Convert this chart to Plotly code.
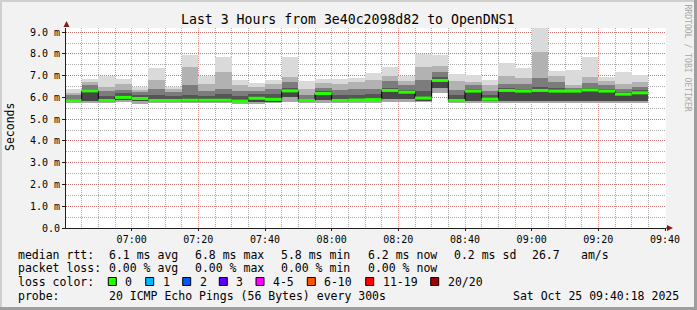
import plotly.graph_objects as go

DAY = "2025-10-25 "
bin_start = ["06:40", "06:45", "06:50", "06:55", "07:00", "07:05", "07:10", "07:15",
             "07:20", "07:25", "07:30", "07:35", "07:40", "07:45", "07:50", "07:55",
             "08:00", "08:05", "08:10", "08:15", "08:20", "08:25", "08:30", "08:35",
             "08:40", "08:45", "08:50", "08:55", "09:00", "09:05", "09:10", "09:15",
             "09:20", "09:25", "09:30"]
last_end = "09:35"

# round-trip time smoke, in ms (min, low, median, upper1, upper2, upper3, max)
rtt_min = [5.78, 5.77, 5.76, 5.80, 5.72, 5.78, 5.78, 5.77, 5.77, 5.77, 5.74, 5.72, 5.75, 5.78, 5.78, 5.77, 5.77, 5.78,
           5.78, 5.78, 5.78, 5.80, 6.22, 5.76, 5.77, 5.77, 5.77, 5.77, 5.75, 5.77, 5.77, 5.76, 5.77, 5.77, 5.77]
rtt_lo = [5.82, 5.85, 5.82, 5.90, 5.82, 5.82, 5.82, 5.82, 5.82, 5.82, 5.80, 5.77, 5.82, 6.00, 5.82, 5.86, 5.82, 5.84,
          5.84, 5.92, 5.95, 5.88, 6.45, 5.80, 5.85, 5.82, 5.85, 5.85, 5.85, 5.85, 5.82, 5.85, 5.85, 5.82, 5.85]
rtt_med = [5.85, 6.30, 5.86, 6.00, 5.95, 5.86, 5.86, 5.87, 5.87, 5.87, 5.83, 5.96, 5.91, 6.30, 5.86, 6.18, 5.86, 5.88,
           5.90, 6.32, 6.24, 5.97, 6.78, 5.86, 6.29, 5.92, 6.32, 6.29, 6.32, 6.29, 6.29, 6.34, 6.29, 6.15, 6.21]
rtt_h1 = [5.95, 6.40, 6.05, 6.20, 6.10, 6.10, 6.05, 6.10, 6.05, 6.15, 6.05, 6.15, 6.15, 6.45, 5.95, 6.30, 6.10, 6.10,
          6.15, 6.45, 6.35, 6.30, 6.95, 6.10, 6.40, 6.10, 6.45, 6.40, 6.50, 6.45, 6.35, 6.45, 6.40, 6.25, 6.35]
rtt_h2 = [6.10, 6.55, 6.30, 6.35, 6.25, 6.40, 6.25, 6.55, 6.30, 6.40, 6.30, 6.30, 6.37, 6.70, 6.10, 6.45, 6.35, 6.40,
          6.40, 6.75, 6.55, 6.80, 7.15, 6.35, 6.55, 6.30, 6.60, 6.60, 6.90, 6.70, 6.45, 6.65, 6.55, 6.40, 6.50]
rtt_h3 = [6.20, 6.70, 6.50, 6.60, 6.35, 6.82, 6.40, 7.42, 6.60, 7.15, 6.55, 6.50, 6.60, 6.95, 6.40, 6.65, 6.60, 6.70,
          6.80, 7.00, 6.75, 7.40, 7.45, 6.75, 6.70, 6.55, 7.00, 6.90, 8.10, 7.00, 6.55, 6.95, 6.75, 6.60, 6.70]
rtt_max = [6.38, 6.83, 7.00, 6.86, 6.46, 7.33, 6.50, 7.95, 7.00, 7.88, 6.78, 6.66, 6.82, 7.85, 6.74, 6.85, 6.85, 6.91,
           7.10, 7.42, 6.98, 8.00, 7.93, 7.08, 7.05, 6.82, 7.57, 7.34, 9.18, 7.23, 7.27, 7.85, 6.92, 7.15, 7.02]

y_tick_vals = [0, 1, 2, 3, 4, 5, 6, 7, 8, 9]
y_tick_text = ["0.0", "1.0 m", "2.0 m", "3.0 m", "4.0 m", "5.0 m", "6.0 m", "7.0 m", "8.0 m", "9.0 m"]

title_text = "Last 3 Hours from 3e40c2098d82 to OpenDNS1"
row_rtt = ["median rtt:", "6.1 ms avg", "6.8 ms max", "5.8 ms min", "6.2 ms now", "0.2 ms sd", "26.7", "am/s"]
row_loss = ["packet loss:", "0.00 % avg", "0.00 % max", "0.00 % min", "0.00 % now"]
loss_labels = ["0", "1", "2", "3", "4-5", "6-10", "11-19", "20/20"]
loss_colors = ["#26ff00", "#00b8ff", "#0059ff", "#5e00ff", "#ff00ff", "#ff5500", "#ff0000", "#a10000"]
probe_text = "20 ICMP Echo Pings (56 Bytes) every 300s"
date_text = "Sat Oct 25 09:40:18 2025"

# ---- geometry helpers (pixel -> paper) ----
W, H = 697, 310
L, R, T, B = 66, 666, 28, 228
def px(x): return (x - L) / (R - L)
def py(y): return (B - y) / (B - T)

starts = [DAY + s for s in bin_start]
ends = starts[1:] + [DAY + last_end]
import pandas as pd
st = pd.to_datetime(starts)
en = pd.to_datetime(ends)
centers = st + (en - st) / 2
width_ms = [(e - s).total_seconds() * 1000 for s, e in zip(st, en)]

fig = go.Figure()
levels = [rtt_min, rtt_lo, rtt_med, rtt_h1, rtt_h2, rtt_h3, rtt_max]
shades = ["#a6a6a6", "#474747", "#555555", "#7c7c7c", "#b2b2b2", "#dadada"]
for k in range(6):
    lo = levels[k]; hi = levels[k + 1]
    fig.add_trace(go.Bar(x=centers, base=lo, y=[h - l for h, l in zip(hi, lo)], width=width_ms,
                         marker=dict(color=shades[k], line=dict(width=0)), hoverinfo="skip"))

# black median step line
fig.add_trace(go.Scatter(x=list(st) + [en[-1]], y=rtt_med + [rtt_med[-1]], mode="lines",
                         line=dict(color="#000000", width=1, shape="hv"), hoverinfo="skip"))
# loss-coloured median segments
gx, gy = [], []
for s, e, m in zip(st, en, rtt_med):
    gx += [s, e, None]; gy += [m, m, None]
fig.add_trace(go.Scatter(x=gx, y=gy, mode="lines", line=dict(color=loss_colors[0], width=3),
                         hoverinfo="skip", connectgaps=False))

mono = "DejaVu Sans Mono"
grid_minor = "rgba(143,143,143,0.75)"
grid_major = "rgba(222,79,79,0.6)"

fig.update_layout(
    width=W, height=H, margin=dict(l=L, r=W - R, t=T, b=H - B),
    paper_bgcolor="#f2f2f2", plot_bgcolor="#ffffff",
    barmode="overlay", bargap=0, showlegend=False, hovermode=False,
    font=dict(family=mono, size=10, color="#000000"),
    xaxis=dict(type="date", range=[DAY + "06:40:18", DAY + "09:40:18"],
               tick0=DAY + "07:00", dtick=1200000, tickformat="%H:%M",
               showgrid=True, gridcolor=grid_major, griddash="1px,1px", gridwidth=1,
               minor=dict(dtick=300000, tick0=DAY + "07:00", showgrid=True, gridcolor=grid_minor,
                          griddash="1px,1px", gridwidth=1),
               showline=True, linecolor="#1f1f1f", linewidth=1, ticks="outside", ticklen=2,
               tickcolor="#1f1f1f", tickfont=dict(family=mono, size=10), zeroline=False, fixedrange=True),
    yaxis=dict(range=[0, 9.19], tickmode="array", tickvals=y_tick_vals, ticktext=y_tick_text,
               showgrid=True, gridcolor=grid_major, griddash="1px,1px", gridwidth=1,
               minor=dict(dtick=0.5, tick0=0, showgrid=True, gridcolor=grid_minor,
                          griddash="1px,1px", gridwidth=1),
               showline=True, linecolor="#1f1f1f", linewidth=1, ticks="outside", ticklen=3,
               tickcolor="#1f1f1f", tickfont=dict(family=mono, size=10), zeroline=False, fixedrange=True),
)

def nb(s): return s.replace(" ", "\u00a0")

ann = []
ann.append(dict(x=px(347.5), y=py(19.5), text=nb(title_text), xanchor="center", yanchor="middle",
                font=dict(family=mono, size=13.2)))
ann.append(dict(x=px(10), y=py(127), text="Seconds", textangle=-90, xanchor="center", yanchor="middle",
                font=dict(family=mono, size=11.5)))
ann.append(dict(x=px(687.5), y=py(58), text=nb("RRDTOOL / TOBI OETIKER"), textangle=90, xanchor="center",
                yanchor="middle", font=dict(family=mono, size=8.1, color="#a8a8a8")))

fs = 11.5
rtt_x = [16, 107.3, 193.3, 279.3, 365.7, 451.7, 530, 579.3]
for x, t in zip(rtt_x, row_rtt):
    ann.append(dict(x=px(x), y=py(254.5), text=nb(t), xanchor="left", yanchor="middle", font=dict(size=fs)))
loss_x = [16, 107.3, 193.3, 279.3, 365.7]
for x, t in zip(loss_x, row_loss):
    ann.append(dict(x=px(x), y=py(268), text=nb(t), xanchor="left", yanchor="middle", font=dict(size=fs)))
ann.append(dict(x=px(16), y=py(282), text=nb("loss color:"), xanchor="left", yanchor="middle", font=dict(size=fs)))
box_x = [108.3, 145.7, 182.7, 219.3, 256, 307.3, 365.7, 430.7]
shapes = []
for bx, lab, col in zip(box_x, loss_labels, loss_colors):
    shapes.append(dict(type="rect", xref="paper", yref="paper", x0=px(bx), x1=px(bx + 8),
                       y0=py(285.5), y1=py(277.5), fillcolor=col, line=dict(color="#000000", width=1)))
    ann.append(dict(x=px(bx + 15), y=py(282), text=nb(lab), xanchor="left", yanchor="middle", font=dict(size=fs)))
ann.append(dict(x=px(16), y=py(296), text=nb("probe:"), xanchor="left", yanchor="middle", font=dict(size=fs)))
ann.append(dict(x=px(107.3), y=py(296), text=nb(probe_text), xanchor="left", yanchor="middle", font=dict(size=fs)))
ann.append(dict(x=px(680.5), y=py(296), text=nb(date_text), xanchor="right", yanchor="middle", font=dict(size=fs)))

for a in ann:
    a.update(xref="paper", yref="paper", showarrow=False)
    a.setdefault("font", {})
    a["font"].setdefault("family", mono)
    a["font"].setdefault("color", "#000000")

# frame shading
for (x0, x1, y0, y1, c) in [(0, 697, 0, 2, "#cfcfcf"), (0, 2, 0, 310, "#cfcfcf"),
                            (0, 697, 307, 310, "#9e9e9e"), (694, 697, 0, 310, "#9e9e9e")]:
    shapes.append(dict(type="rect", xref="paper", yref="paper", x0=px(x0), x1=px(x1), y0=py(y1), y1=py(y0),
                       fillcolor=c, line=dict(width=0), layer="above"))
# axis arrows
arrow = "#801f1f"
shapes.append(dict(type="path", xref="paper", yref="paper",
                   path=f"M {px(66.5)},{py(21)} L {px(63.5)},{py(27)} L {px(69.5)},{py(27)} Z",
                   fillcolor=arrow, line=dict(width=0)))
shapes.append(dict(type="path", xref="paper", yref="paper",
                   path=f"M {px(673)},{py(228)} L {px(667)},{py(225)} L {px(667)},{py(231)} Z",
                   fillcolor=arrow, line=dict(width=0)))
shapes.append(dict(type="line", xref="paper", yref="paper", x0=px(666), x1=px(668), y0=py(228), y1=py(228),
                   line=dict(color="#1f1f1f", width=1)))

fig.update_layout(annotations=ann, shapes=shapes)
fig.write_html("out.html")
